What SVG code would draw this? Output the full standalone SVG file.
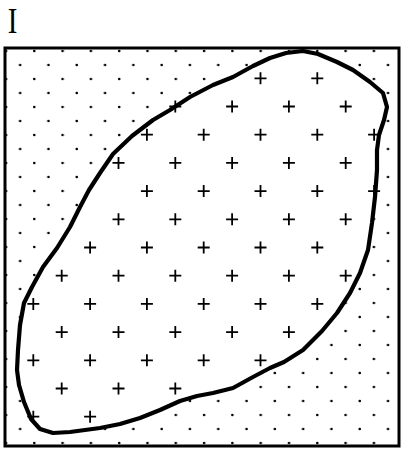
<svg xmlns="http://www.w3.org/2000/svg" xmlns:xlink="http://www.w3.org/1999/xlink" width="403" height="451" viewBox="0 0 403 451">
<style>
.frame{fill:url(#dots);stroke:#000;stroke-width:3}
.blob{fill:#fff;stroke:#000;stroke-width:4.2;stroke-linejoin:round}
.plus{stroke:#000;stroke-width:1.8;fill:none}
.label{font-family:"Liberation Serif","Times New Roman",serif;font-size:36px;fill:#000}
</style>
<defs>
<pattern id="dots" patternUnits="userSpaceOnUse" x="-1.075" y="44" width="28.3" height="28">
<circle cx="7.075" cy="7" r="1.3" fill="#000"/>
<circle cx="21.225" cy="21" r="1.3" fill="#000"/>
</pattern>
<path id="plus" class="plus" d="M-6,0H6M0,-6V6"/>
</defs>
<rect width="403" height="451" fill="#fff"/>
<g id="label">
<text class="label" transform="translate(12.5,33) scale(0.8,1)" text-anchor="middle">I</text>
</g>
<g id="region-outer">
<rect class="frame" x="5" y="48" width="394" height="398"/>
</g>
<g id="region-inner">
<path class="blob" d="M303,51 L318,54 L337,62 L353,70 L370,82 L383,93 L387,107 L384,120 L379,135 L377,150 L377,170 L375,197 L372,223 L368,250 L360,273 L350,293 L337,313 L322,331 L303,350 L284,362 L270,368 L253,377 L233,388 L213,393 L197,396 L180,401 L160,410 L140,418 L120,424 L100,428 L70,432 L53,433 L40,429 L31,419 L24,402 L19,385 L17,370 L18,350 L20,325 L24,303 L32,287 L43,267 L57,248 L70,227 L80,207 L89,190 L100,173 L113,154 L132,136 L153,120 L170,110 L190,97 L213,85 L233,77 L253,66 L270,58 L286,53 Z"/>
<g id="pluses">
<use href="#plus" x="260.5" y="78.3"/><use href="#plus" x="317.3" y="78.3"/>
<use href="#plus" x="175.3" y="106.5"/><use href="#plus" x="232.1" y="106.5"/><use href="#plus" x="288.9" y="106.5"/><use href="#plus" x="345.7" y="106.5"/>
<use href="#plus" x="146.9" y="134.7"/><use href="#plus" x="203.7" y="134.7"/><use href="#plus" x="260.5" y="134.7"/><use href="#plus" x="317.3" y="134.7"/><use href="#plus" x="374.1" y="134.7"/>
<use href="#plus" x="118.5" y="162.9"/><use href="#plus" x="175.3" y="162.9"/><use href="#plus" x="232.1" y="162.9"/><use href="#plus" x="288.9" y="162.9"/><use href="#plus" x="345.7" y="162.9"/>
<use href="#plus" x="146.9" y="191.1"/><use href="#plus" x="203.7" y="191.1"/><use href="#plus" x="260.5" y="191.1"/><use href="#plus" x="317.3" y="191.1"/><use href="#plus" x="374.1" y="191.1"/>
<use href="#plus" x="118.5" y="219.3"/><use href="#plus" x="175.3" y="219.3"/><use href="#plus" x="232.1" y="219.3"/><use href="#plus" x="288.9" y="219.3"/><use href="#plus" x="345.7" y="219.3"/>
<use href="#plus" x="90.1" y="247.5"/><use href="#plus" x="146.9" y="247.5"/><use href="#plus" x="203.7" y="247.5"/><use href="#plus" x="260.5" y="247.5"/><use href="#plus" x="317.3" y="247.5"/>
<use href="#plus" x="61.7" y="275.7"/><use href="#plus" x="118.5" y="275.7"/><use href="#plus" x="175.3" y="275.7"/><use href="#plus" x="232.1" y="275.7"/><use href="#plus" x="288.9" y="275.7"/><use href="#plus" x="345.7" y="275.7"/>
<use href="#plus" x="33.3" y="303.9"/><use href="#plus" x="90.1" y="303.9"/><use href="#plus" x="146.9" y="303.9"/><use href="#plus" x="203.7" y="303.9"/><use href="#plus" x="260.5" y="303.9"/><use href="#plus" x="317.3" y="303.9"/>
<use href="#plus" x="61.7" y="332.1"/><use href="#plus" x="118.5" y="332.1"/><use href="#plus" x="175.3" y="332.1"/><use href="#plus" x="232.1" y="332.1"/><use href="#plus" x="288.9" y="332.1"/>
<use href="#plus" x="33.3" y="360.3"/><use href="#plus" x="90.1" y="360.3"/><use href="#plus" x="146.9" y="360.3"/><use href="#plus" x="203.7" y="360.3"/><use href="#plus" x="260.5" y="360.3"/>
<use href="#plus" x="61.7" y="388.5"/><use href="#plus" x="118.5" y="388.5"/><use href="#plus" x="175.3" y="388.5"/>
<use href="#plus" x="33.3" y="416.7"/><use href="#plus" x="90.1" y="416.7"/>
</g>
</g>
</svg>
